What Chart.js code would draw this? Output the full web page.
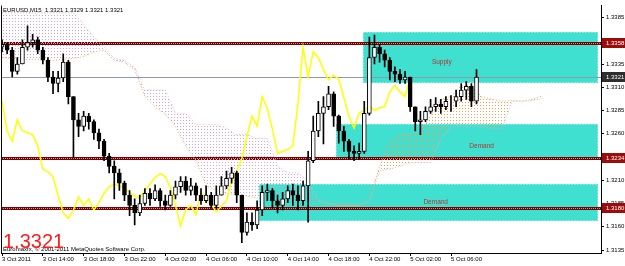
<!DOCTYPE html>
<html>
<head>
<meta charset="utf-8">
<script src="https://cdn.jsdelivr.net/npm/chart.js@4.4.1/dist/chart.umd.min.js"></script>
<style>
    html, body { margin: 0; padding: 0; background: #fff; }
    canvas { display: block; }
</style>
</head>
<body>
<canvas id="grafico" width="625" height="266"></canvas>
<script>
// Velas EURUSD (agrupadas cada 30 min) desde 3 Oct 10:00
const opens = [
    1.3353, 1.3356, 1.3350, 1.3327, 1.3335, 1.3353, 1.3358, 1.3361, 1.3350, 1.3339,
    1.3321, 1.3314, 1.3320, 1.3337, 1.3300, 1.3275, 1.3268, 1.3279, 1.3273, 1.3261,
    1.3252, 1.3236, 1.3225, 1.3218, 1.3207, 1.3194, 1.3183, 1.3175, 1.3185, 1.3196,
    1.3190, 1.3199, 1.3188, 1.3183, 1.3194, 1.3203, 1.3209, 1.3199, 1.3204, 1.3194,
    1.3188, 1.3194, 1.3183, 1.3194, 1.3204, 1.3212, 1.3218, 1.3194, 1.3154, 1.3165,
    1.3162, 1.3178, 1.3197, 1.3199, 1.3188, 1.3183, 1.3190, 1.3199, 1.3194, 1.3188,
    1.3204, 1.3231, 1.3263, 1.3282, 1.3289, 1.3303, 1.3279, 1.3263, 1.3252, 1.3241,
    1.3239, 1.3241, 1.3282, 1.3342, 1.3353, 1.3346, 1.3339, 1.3327, 1.3324, 1.3318,
    1.3321, 1.3289, 1.3273, 1.3275, 1.3284, 1.3289, 1.3292, 1.3289, 1.3295, 1.3295,
    1.3300, 1.3307, 1.3311, 1.3295
];
const highs = [
    1.3361, 1.3358, 1.3353, 1.3342, 1.3361, 1.3376, 1.3367, 1.3364, 1.3353, 1.3342,
    1.3327, 1.3327, 1.3346, 1.3339, 1.3300, 1.3282, 1.3284, 1.3282, 1.3275, 1.3265,
    1.3254, 1.3239, 1.3231, 1.3222, 1.3209, 1.3199, 1.3190, 1.3194, 1.3201, 1.3201,
    1.3205, 1.3201, 1.3194, 1.3199, 1.3209, 1.3214, 1.3214, 1.3212, 1.3207, 1.3201,
    1.3204, 1.3197, 1.3204, 1.3214, 1.3220, 1.3224, 1.3220, 1.3194, 1.3175, 1.3175,
    1.3188, 1.3204, 1.3206, 1.3201, 1.3194, 1.3197, 1.3204, 1.3206, 1.3204, 1.3209,
    1.3241, 1.3279, 1.3295, 1.3300, 1.3311, 1.3305, 1.3280, 1.3268, 1.3254, 1.3247,
    1.3250, 1.3295, 1.3364, 1.3366, 1.3356, 1.3350, 1.3342, 1.3332, 1.3329, 1.3327,
    1.3321, 1.3289, 1.3284, 1.3289, 1.3297, 1.3299, 1.3297, 1.3300, 1.3301, 1.3307,
    1.3314, 1.3316, 1.3314, 1.3329
];
const lows = [
    1.3348, 1.3346, 1.3321, 1.3324, 1.3335, 1.3350, 1.3353, 1.3346, 1.3335, 1.3316,
    1.3303, 1.3305, 1.3316, 1.3292, 1.3234, 1.3257, 1.3263, 1.3265, 1.3254, 1.3244,
    1.3231, 1.3218, 1.3190, 1.3199, 1.3188, 1.3172, 1.3162, 1.3172, 1.3183, 1.3183,
    1.3188, 1.3182, 1.3178, 1.3182, 1.3190, 1.3197, 1.3194, 1.3194, 1.3188, 1.3184,
    1.3186, 1.3180, 1.3180, 1.3194, 1.3201, 1.3207, 1.3186, 1.3143, 1.3151, 1.3156,
    1.3158, 1.3172, 1.3188, 1.3180, 1.3175, 1.3178, 1.3186, 1.3183, 1.3178, 1.3183,
    1.3165, 1.3229, 1.3257, 1.3249, 1.3286, 1.3268, 1.3250, 1.3241, 1.3233, 1.3231,
    1.3233, 1.3239, 1.3280, 1.3335, 1.3337, 1.3332, 1.3318, 1.3316, 1.3314, 1.3314,
    1.3284, 1.3263, 1.3259, 1.3273, 1.3282, 1.3284, 1.3282, 1.3286, 1.3284, 1.3289,
    1.3295, 1.3297, 1.3289, 1.3292
];
const closes = [
    1.3356, 1.3350, 1.3327, 1.3335, 1.3353, 1.3358, 1.3361, 1.3350, 1.3339, 1.3321,
    1.3314, 1.3320, 1.3337, 1.3300, 1.3275, 1.3268, 1.3279, 1.3273, 1.3261, 1.3252,
    1.3236, 1.3225, 1.3218, 1.3207, 1.3194, 1.3183, 1.3175, 1.3185, 1.3196, 1.3190,
    1.3199, 1.3188, 1.3183, 1.3194, 1.3203, 1.3209, 1.3199, 1.3204, 1.3194, 1.3188,
    1.3194, 1.3183, 1.3194, 1.3204, 1.3212, 1.3218, 1.3194, 1.3154, 1.3165, 1.3162,
    1.3178, 1.3197, 1.3199, 1.3188, 1.3183, 1.3190, 1.3199, 1.3194, 1.3188, 1.3204,
    1.3231, 1.3263, 1.3282, 1.3289, 1.3303, 1.3279, 1.3263, 1.3252, 1.3241, 1.3239,
    1.3241, 1.3282, 1.3342, 1.3353, 1.3346, 1.3339, 1.3327, 1.3324, 1.3318, 1.3321,
    1.3289, 1.3273, 1.3275, 1.3284, 1.3289, 1.3292, 1.3289, 1.3295, 1.3295, 1.3300,
    1.3307, 1.3311, 1.3295, 1.3321
];

// Nube Ichimoku (un punto por hora, desplazada 26 barras)
const senkouA = [
    1.3342, 1.3341, 1.3340, 1.3340, 1.3340, 1.3339, 1.3340, 1.3341, 1.3343, 1.3348,
    1.3350, 1.3339, 1.3337, 1.3329, 1.3300, 1.3289, 1.3281, 1.3268, 1.3247, 1.3231,
    1.3204, 1.3199, 1.3196, 1.3194, 1.3193, 1.3191, 1.3191, 1.3190, 1.3190, 1.3190,
    1.3190, 1.3188, 1.3186, 1.3185, 1.3184, 1.3184, 1.3188, 1.3225, 1.3252, 1.3259,
    1.3259, 1.3263, 1.3279, 1.3297, 1.3300, 1.3312, 1.3311, 1.3300, 1.3297, 1.3295,
    1.3296, 1.3295, 1.3297, 1.3301
];
const senkouB = [
    1.3390, 1.3390, 1.3390, 1.3390, 1.3390, 1.3390, 1.3390, 1.3390, 1.3378, 1.3364,
    1.3353, 1.3341, 1.3339, 1.3331, 1.3307, 1.3307, 1.3307, 1.3282, 1.3282, 1.3270,
    1.3270, 1.3270, 1.3266, 1.3259, 1.3259, 1.3255, 1.3255, 1.3225, 1.3218, 1.3218,
    1.3209, 1.3188, 1.3185, 1.3183, 1.3183, 1.3183, 1.3188, 1.3220, 1.3222, 1.3225,
    1.3229, 1.3229, 1.3229, 1.3254, 1.3268, 1.3268, 1.3268, 1.3268, 1.3266, 1.3266,
    1.3295, 1.3295, 1.3296, 1.3298
];

// Línea amarilla (cada 30 min)
const lineaAmarilla = [
    1.3295, 1.3263, 1.3252, 1.3275, 1.3263, 1.3261, 1.3259, 1.3247, 1.3222, 1.3219,
    1.3214, 1.3193, 1.3175, 1.3169, 1.3178, 1.3192, 1.3183, 1.3190, 1.3178, 1.3186,
    1.3196, 1.3203, 1.3206, 1.3204, 1.3201, 1.3197, 1.3193, 1.3191, 1.3199, 1.3206,
    1.3213, 1.3217, 1.3214, 1.3202, 1.3183, 1.3161, 1.3178, 1.3183, 1.3173, 1.3197,
    1.3188, 1.3184, 1.3176, 1.3182, 1.3188, 1.3209, 1.3220, 1.3233, 1.3257, 1.3279,
    1.3268, 1.3300, 1.3287, 1.3265, 1.3239, 1.3241, 1.3243, 1.3247, 1.3292, 1.3353,
    1.3321, 1.3348, 1.3342, 1.3329, 1.3318, 1.3323, 1.3319, 1.3299, 1.3279, 1.3266,
    1.3282, 1.3285, 1.3290, 1.3285, 1.3288, 1.3289, 1.3305, 1.3312, 1.3305, 1.3300,
    1.3319
];

// Niveles y zonas
const niveles = [1.3358, 1.3234, 1.3180];
const precioActual = 1.3321;
const zonas = [
    { nombre: 'Supply', desde: 35.4, alto: 1.3369, bajo: 1.3315 },
    { nombre: 'Demand', desde: 32.7, alto: 1.3270, bajo: 1.3234 },
    { nombre: 'Demand', desde: 25.2, alto: 1.3206, bajo: 1.3166 }
];

// Ejes
const horasEtiquetas = [0, 4, 8, 12, 16, 20, 24, 28, 32, 36, 40, 44];
const etiquetasTiempo = ['3 Oct 2011', '3 Oct 14:00', '3 Oct 18:00', '3 Oct 22:00', '4 Oct 02:00', '4 Oct 06:00',
    '4 Oct 10:00', '4 Oct 14:00', '4 Oct 18:00', '4 Oct 22:00', '5 Oct 02:00', '5 Oct 06:00'];
const preciosEje = [1.3385, 1.3335, 1.3310, 1.3285, 1.3260, 1.3210, 1.3185, 1.3160, 1.3135];

const fuente = 'Liberation Sans, Arial, sans-serif';
const canvas = document.getElementById('grafico');
const ctx = canvas.getContext('2d');

function patronPuntos(color) {
    const c = document.createElement('canvas');
    c.width = 3;
    c.height = 3;
    const g = c.getContext('2d');
    g.fillStyle = color;
    g.fillRect(0, 0, 1, 1);
    return ctx.createPattern(c, 'repeat');
}

const cuerpos = opens.map((o, i) => ({ x: i * 0.5, y: [o, closes[i]] }));
const mechas = highs.map((h, i) => ({ x: i * 0.5, y: [lows[i], h] }));
const puntosAmarillos = lineaAmarilla.map((v, i) => ({ x: i * 0.5, y: v }));
const puntosA = senkouA.map((v, i) => ({ x: i, y: v }));
const puntosB = senkouB.map((v, i) => ({ x: i, y: v }));

// Zonas, niveles y textos
const fondoPlugin = {
    id: 'fondo',
    beforeDatasetsDraw(chart) {
        const { ctx, chartArea, scales: { x, y } } = chart;
        ctx.save();
        ctx.beginPath();
        ctx.rect(chartArea.left, chartArea.top, chartArea.width, chartArea.height);
        ctx.clip();

        zonas.forEach(z => {
            const x0 = Math.round(x.getPixelForValue(z.desde));
            const y0 = Math.round(y.getPixelForValue(z.alto));
            const y1 = Math.round(y.getPixelForValue(z.bajo));
            const ancho = chartArea.right - 3 - x0;
            ctx.fillStyle = '#40e0d0';
            ctx.fillRect(x0, y0, ancho, y1 - y0);
            ctx.strokeStyle = '#c4f5ef';
            ctx.lineWidth = 1;
            ctx.setLineDash([1, 2]);
            ctx.strokeRect(x0 + 0.5, y0 + 0.5, ancho - 1, y1 - y0 - 1);
            ctx.setLineDash([]);
        });

        ctx.fillStyle = '#b8322a';
        ctx.font = '6.5px ' + fuente;
        ctx.textAlign = 'center';
        ctx.textBaseline = 'middle';
        ctx.fillText('Supply', x.getPixelForValue(43.1), y.getPixelForValue(1.3337));
        ctx.fillText('Demand', x.getPixelForValue(47.0), y.getPixelForValue(1.3247));
        ctx.fillText('Demand', x.getPixelForValue(42.5), y.getPixelForValue(1.3186));

        const py = Math.round(y.getPixelForValue(precioActual)) + 0.5;
        ctx.strokeStyle = '#8c9aaa';
        ctx.lineWidth = 1;
        ctx.beginPath();
        ctx.moveTo(chartArea.left, py);
        ctx.lineTo(chartArea.right, py);
        ctx.stroke();

        niveles.forEach(n => {
            const p = Math.round(y.getPixelForValue(n)) + 0.5;
            ctx.strokeStyle = '#7a0000';
            ctx.lineWidth = 3;
            ctx.beginPath();
            ctx.moveTo(chartArea.left, p);
            ctx.lineTo(chartArea.right, p);
            ctx.stroke();
            ctx.strokeStyle = '#d98c8c';
            ctx.lineWidth = 1;
            ctx.setLineDash([1, 1]);
            ctx.beginPath();
            ctx.moveTo(chartArea.left, p);
            ctx.lineTo(chartArea.right, p);
            ctx.stroke();
            ctx.setLineDash([]);
        });
        ctx.restore();
    },
    afterDraw(chart) {
        const { ctx, chartArea, scales: { y } } = chart;
        ctx.save();
        // borde izquierdo
        ctx.strokeStyle = '#000';
        ctx.lineWidth = 1;
        ctx.beginPath();
        ctx.moveTo(chartArea.left + 0.5, chartArea.top);
        ctx.lineTo(chartArea.left + 0.5, chartArea.bottom);
        ctx.stroke();

        // etiquetas de precio en el eje
        const marcas = niveles.map(n => ({ v: n, color: '#9b0c0c' }));
        marcas.push({ v: precioActual, color: '#2e2e2e' });
        ctx.font = '6px ' + fuente;
        ctx.textAlign = 'left';
        ctx.textBaseline = 'middle';
        marcas.forEach(m => {
            const p = Math.round(y.getPixelForValue(m.v));
            ctx.fillStyle = m.color;
            ctx.fillRect(chartArea.right + 1, p - 5, 24, 10);
            ctx.fillStyle = '#fff';
            ctx.fillText(m.v.toFixed(4), chartArea.right + 5, p);
        });

        // textos
        ctx.fillStyle = '#000';
        ctx.textBaseline = 'alphabetic';
        ctx.fillText('EURUSD,M15  1.3321 1.3329 1.3321 1.3321', chartArea.left + 2, chartArea.top + 6);
        ctx.fillText('Euromaxfx, \u00a9 2001-2011 MetaQuotes Software Corp.', chartArea.left + 2, chartArea.bottom - 2);
        ctx.fillStyle = '#ff1a1a';
        ctx.font = '20px ' + fuente;
        ctx.fillText(closes[closes.length - 1].toFixed(4), chartArea.left + 2, chartArea.bottom - 5);
        ctx.restore();
    }
};

const grafico = new Chart(ctx, {
    type: 'bar',
    data: {
        datasets: [{
            type: 'bar',
            label: 'Cuerpos',
            data: cuerpos,
            grouped: false,
            barThickness: 4,
            backgroundColor: c => (c.raw && c.raw.y[1] >= c.raw.y[0]) ? '#ffffff' : '#000000',
            borderColor: '#000',
            borderWidth: 1,
            borderSkipped: false,
            order: 1
        }, {
            type: 'bar',
            label: 'Mechas',
            data: mechas,
            grouped: false,
            barThickness: 1,
            backgroundColor: '#000',
            borderSkipped: false,
            order: 2
        }, {
            type: 'line',
            label: 'Amarilla',
            data: puntosAmarillos,
            borderColor: '#ffff00',
            borderWidth: 1.5,
            pointRadius: 0,
            tension: 0,
            order: 3
        }, {
            type: 'line',
            label: 'Senkou A',
            data: puntosA,
            borderColor: '#f4a460',
            borderWidth: 1,
            borderDash: [1, 2],
            pointRadius: 0,
            fill: { target: 4, above: patronPuntos('#f0a050'), below: patronPuntos('#d4a6cc') },
            order: 4
        }, {
            type: 'line',
            label: 'Senkou B',
            data: puntosB,
            borderColor: '#d8b4d4',
            borderWidth: 1,
            borderDash: [1, 2],
            pointRadius: 0,
            fill: false,
            order: 5
        }]
    },
    options: {
        responsive: false,
        animation: false,
        devicePixelRatio: 1,
        layout: { padding: { left: 1, top: 3, right: 0, bottom: 0 } },
        plugins: {
            legend: { display: false },
            tooltip: { enabled: false }
        },
        scales: {
            x: {
                type: 'linear',
                offset: false,
                min: -0.1,
                max: 58.7,
                afterBuildTicks: s => { s.ticks = horasEtiquetas.map(v => ({ value: v })); },
                afterFit: s => { s.height = 13; },
                grid: { drawOnChartArea: false, drawTicks: true, tickLength: 3, color: '#000', offset: false },
                border: { color: '#000' },
                ticks: {
                    autoSkip: false,
                    maxRotation: 0,
                    align: 'start',
                    padding: 0,
                    color: '#000',
                    font: { family: fuente, size: 6 },
                    callback: v => etiquetasTiempo[horasEtiquetas.indexOf(v)]
                }
            },
            y: {
                position: 'right',
                min: 1.31318,
                max: 1.33978,
                afterBuildTicks: s => { s.ticks = preciosEje.map(v => ({ value: v })); },
                afterFit: s => { s.width = 24; },
                grid: { drawOnChartArea: false, drawTicks: true, tickLength: 3, color: '#000' },
                border: { color: '#000' },
                ticks: {
                    padding: 2,
                    color: '#000',
                    font: { family: fuente, size: 6 },
                    callback: v => v.toFixed(4)
                }
            }
        }
    },
    plugins: [fondoPlugin]
});
</script>
</body>
</html>
